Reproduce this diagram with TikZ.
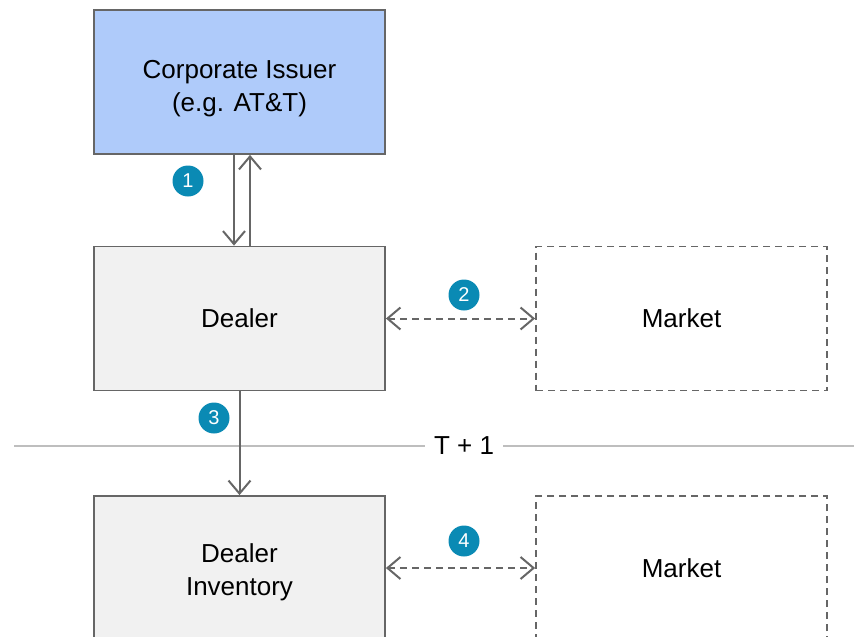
\documentclass[tikz,border=0pt]{standalone}
\usepackage{fontspec}
\setmainfont{Liberation Sans}
\usetikzlibrary{arrows.meta}
\definecolor{edge}{RGB}{102,102,102}
\definecolor{issuerblue}{RGB}{175,203,250}
\definecolor{boxgray}{RGB}{241,241,241}
\definecolor{badge}{RGB}{10,138,180}
\definecolor{rule}{RGB}{190,190,190}
\newcommand{\bigtxt}{\fontsize{26}{33}\selectfont}

\begin{document}
\begin{tikzpicture}[x=1pt,y=-1pt,
   box/.style={draw=edge,line width=1.8pt,minimum width=291pt,minimum height=144pt,
               inner sep=0pt,align=center,font=\bigtxt},
   mkt/.style={box,fill=white,dash pattern=on 7pt off 5pt},
   num/.style={circle,fill=badge,text=white,minimum size=31pt,inner sep=0pt,
               font=\fontsize{20}{20}\selectfont},
   arr/.style={draw=edge,line width=2pt,-{Straight Barb[length=13pt,width=22pt,line width=2pt]}},
   darr/.style={arr,{Straight Barb[length=13pt,width=22pt,line width=2pt]}-{Straight Barb[length=13pt,width=22pt,line width=2pt]},dash pattern=on 7pt off 5pt}]
   \useasboundingbox (0,0) rectangle (854,637);
   % boxes
   \node[box,fill=issuerblue,text height=64pt,text depth=5.5pt] (issuer) at (239.5,82) {Corporate Issuer\\(e.g. AT\&T)};
   \node[box,fill=boxgray] (dealer) at (239.5,318.5) {Dealer};
   \node[mkt] (market) at (681.5,318.5) {Market};
   \node[box,fill=boxgray,text height=60pt,text depth=5.5pt] (inventory) at (239.5,568) {Dealer\\Inventory};
   \node[mkt] (market2) at (681.5,568) {Market};
   % T+1 rule
   \coordinate (tl) at (14,446);
   \coordinate (tr) at (854,446);
   \draw[rule,line width=1.2pt] (tl) -- (tr);
   \node[fill=white,inner xsep=9pt,font=\bigtxt] (tplus) at (464,446) {T + 1};
   % arrows
   \draw[arr] ([xshift=-5.5pt]issuer.south) -- ([xshift=-5.5pt]dealer.north);
   \draw[arr] ([xshift=10.5pt]dealer.north) -- ([xshift=10.5pt]issuer.south);
   \draw[darr] (dealer.east) -- (market.west);
   \draw[arr] (dealer.south) -- (inventory.north);
   \draw[darr] (inventory.east) -- (market2.west);
   % badges
   \node[num] (n1) at (188,181) {1};
   \node[num] (n2) at (464,295) {2};
   \node[num] (n3) at (214,418) {3};
   \node[num] (n4) at (464,541) {4};
\end{tikzpicture}
\end{document}
